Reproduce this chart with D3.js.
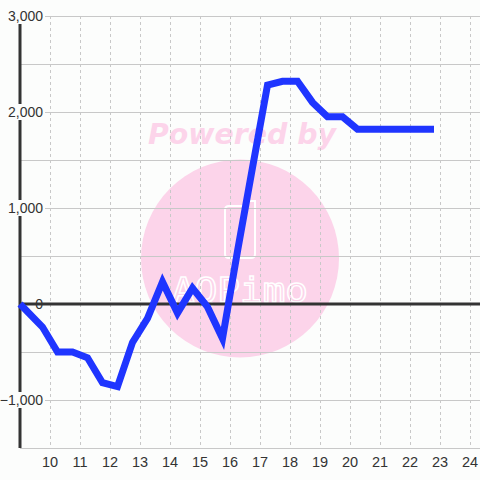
<!DOCTYPE html>
<html>
<head>
<meta charset="utf-8">
<script src="https://cdn.jsdelivr.net/npm/d3@7/dist/d3.min.js"></script>
<style>
html,body{margin:0;padding:0;background:#fcfdfc;}
svg{display:block;}
</style>
</head>
<body>
<svg id="chart" width="480" height="480"></svg>
<script>
const times = [9, 9.75, 10.25, 10.75, 11.25, 11.75, 12.25, 12.75, 13.25, 13.75, 14.25, 14.75, 15.25, 15.75, 16.25, 16.75, 17.25, 17.75, 18.25, 18.75, 19.25, 19.75, 20.25, 20.75, 21.25, 21.75, 22.25, 22.8];
const values = [0, -240, -500, -500, -560, -820, -860, -400, -150, 230, -95, 165, -30, -360, 550, 1420, 2280, 2320, 2320, 2100, 1950, 1950, 1820, 1820, 1820, 1820, 1820, 1820];
const xTicks = [10, 11, 12, 13, 14, 15, 16, 17, 18, 19, 20, 21, 22, 23, 24];
const yGrid = [-1500, -1000, -500, 0, 500, 1000, 1500, 2000, 2500, 3000];
const yLabels = [-1000, 0, 1000, 2000, 3000];

(function() {
const svg = d3.select("#chart");
const W = 480, H = 480;
const pL = 20, pR = 480, pT = 16, pB = 448;
const x = d3.scaleLinear().domain([9, 24.3333]).range([pL, pR]);
const y = d3.scaleLinear().domain([-1500, 3000]).range([pB, pT]);
const bg = "#fcfdfc";
svg.append("rect").attr("width", W).attr("height", H).attr("fill", bg);

// watermark
const wm = svg.append("g");
const pink = "#fcd4ea";
wm.append("circle").attr("cx", 240).attr("cy", 258.5).attr("r", 99).attr("fill", pink);
wm.append("text").attr("x", 148).attr("y", 144)
  .attr("font-family", "DejaVu Sans").attr("font-weight", "bold").attr("font-style", "italic")
  .attr("font-size", 28).attr("fill", pink)
  .attr("textLength", 188).attr("lengthAdjust", "spacingAndGlyphs")
  .text("Powered by");
wm.append("path")
  .attr("d", "M229,206 L248,206 L248,201 L255,201 L255,254 Q255,258 251,258 L229,258 Q225,258 225,254 L225,210 Q225,206 229,206 Z")
  .attr("fill", "none").attr("stroke", "#ffffff").attr("stroke-width", 2);
wm.append("text").attr("x", 172).attr("y", 302)
  .attr("font-family", "DejaVu Sans Mono").attr("font-size", 34)
  .attr("fill", "none").attr("stroke", "#ffffff").attr("stroke-width", 1.4)
  .attr("textLength", 136).attr("lengthAdjust", "spacingAndGlyphs")
  .text("AQPimo");

// grid
svg.append("g").selectAll("line").data(xTicks).join("line")
  .attr("x1", d => x(d)).attr("x2", d => x(d))
  .attr("y1", pT).attr("y2", pB)
  .attr("stroke", "#c8c8c8").attr("stroke-width", 1).attr("stroke-dasharray", "3,3")
  .attr("shape-rendering", "crispEdges");
svg.append("g").selectAll("line").data(yGrid).join("line")
  .attr("x1", pL).attr("x2", pR)
  .attr("y1", d => y(d)).attr("y2", d => y(d))
  .attr("stroke", "#c8c8c8").attr("stroke-width", 1)
  .attr("shape-rendering", "crispEdges");

// left axis line
svg.append("line").attr("x1", pL).attr("x2", pL).attr("y1", pT).attr("y2", pB)
  .attr("stroke", "#333").attr("stroke-width", 3);

// y labels with background
const fmt = d3.format(",");
const yl = svg.append("g").selectAll("g").data(yLabels).join("g");
yl.each(function(d) {
  const g = d3.select(this);
  const t = g.append("text").attr("x", 43).attr("y", y(d))
    .attr("text-anchor", "end").attr("dominant-baseline", "central")
    .attr("font-family", "Liberation Sans, Arial, sans-serif").attr("font-size", 14)
    .attr("fill", "#333").text(fmt(d));
  const bb = t.node().getBBox();
  const rx = Math.max(0, bb.x - 2);
  g.insert("rect", "text").attr("x", rx).attr("y", y(d) - 8)
    .attr("width", 45 - rx).attr("height", 16).attr("fill", bg);
});

// zero line
svg.append("line").attr("x1", pL).attr("x2", pR).attr("y1", y(0)).attr("y2", y(0))
  .attr("stroke", "#333").attr("stroke-width", 3);

// x labels
svg.append("g").selectAll("text").data(xTicks).join("text")
  .attr("x", d => x(d)).attr("y", 462).attr("text-anchor", "middle").attr("dominant-baseline", "central")
  .attr("font-family", "Liberation Sans, Arial, sans-serif").attr("font-size", 14.5)
  .attr("fill", "#333").text(d => d);

// data line
const pts = times.map((t, i) => [t, values[i]]);
svg.append("path").datum(pts)
  .attr("d", d3.line().x(d => x(d[0])).y(d => y(d[1])))
  .attr("fill", "none").attr("stroke", "#1f35ff").attr("stroke-width", 7)
  .attr("stroke-linejoin", "miter").attr("stroke-linecap", "butt");
})();
</script>
</body>
</html>
